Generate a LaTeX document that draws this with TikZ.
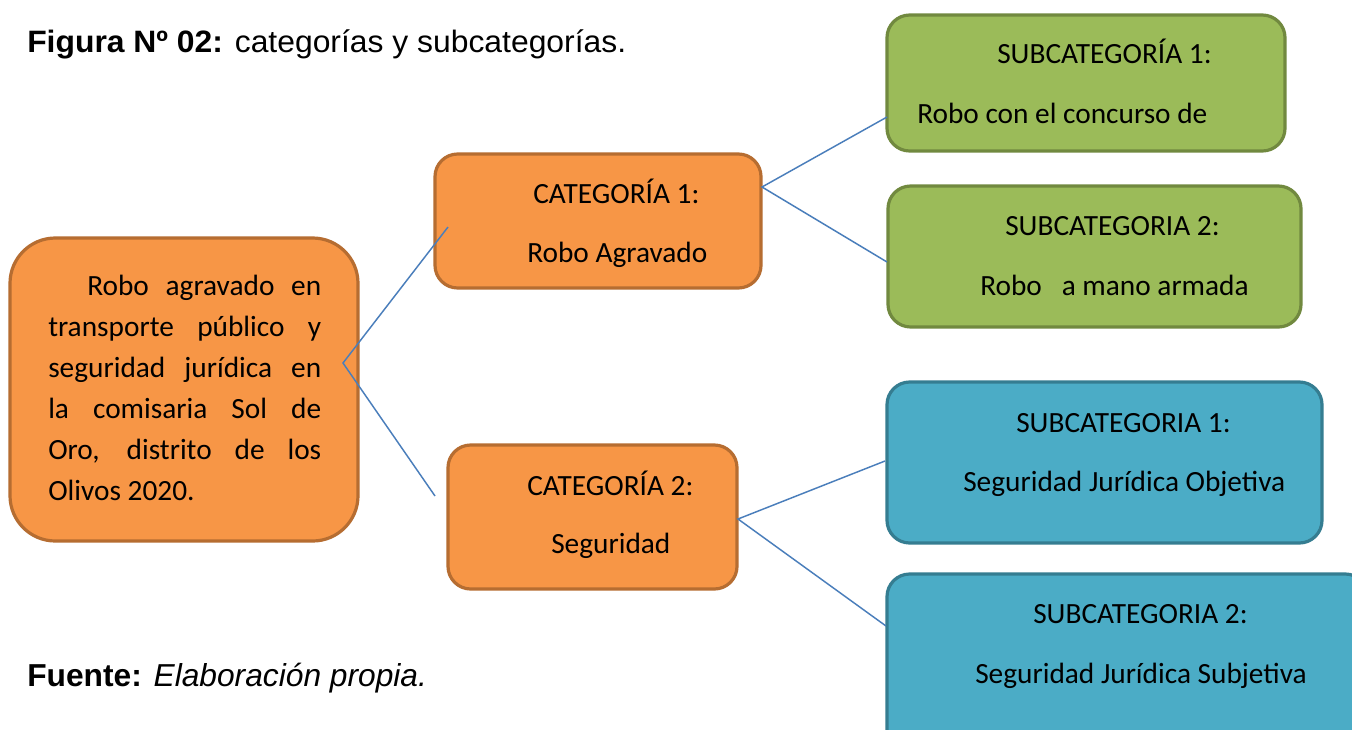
\documentclass[tikz,border=0pt]{standalone}
\usepackage{fontspec}
\setmainfont{Carlito}
\newfontfamily\arialf{Liberation Sans}
\usetikzlibrary{fit}
\definecolor{ofill}{HTML}{F79646}
\definecolor{oline}{HTML}{B66D31}
\definecolor{gfill}{HTML}{9BBB59}
\definecolor{gline}{HTML}{71893F}
\definecolor{bfill}{HTML}{4BACC6}
\definecolor{bline}{HTML}{357D91}
\definecolor{connc}{HTML}{4A7EBB}
\begin{document}
\begin{tikzpicture}[x=0.75pt,y=-0.75pt,
  box/.style={line width=2.4pt, inner sep=0pt, outer sep=0pt, rounded corners=17pt},
  obox/.style={box, fill=ofill, draw=oline},
  gbox/.style={box, fill=gfill, draw=gline},
  bluebox/.style={box, fill=bfill, draw=bline},
  txt/.style={inner sep=0pt, anchor=base west, font=\fontsize{22}{26}\selectfont},
  conn/.style={draw=connc, line width=1.1pt}]
\useasboundingbox (0,0) rectangle (1352,729);
\clip (0,0) rectangle (1352,729);
\fill[white] (0,0) rectangle (1352,729);

% boxes
\node[obox, rounded corners=34pt, fit={(10,238) (358,541)}] (main) {};
\node[obox, fit={(435,154) (761,288)}] (cat1) {};
\node[obox, fit={(448,445) (737,589)}] (cat2) {};
\node[gbox, fit={(887,15) (1285,151)}] (g1) {};
\node[gbox, fit={(888,186) (1301,327)}] (g2) {};
\node[bluebox, fit={(887,382) (1322,543)}] (b1) {};
\node[bluebox, fit={(887,574) (1368,760)}] (b2) {};

% connector points
\coordinate (mainv) at (343,363);
\coordinate (cat1in) at (448,227);
\coordinate (cat2in) at (435,496);
\coordinate (cat1v) at (762,187);
\coordinate (g1in) at (887,117);
\coordinate (g2in) at (887,262);
\coordinate (cat2v) at (738,519);
\coordinate (b1in) at (885,461);
\coordinate (b2in) at (886,626);

\draw[conn] (cat1in) -- (mainv) -- (cat2in);
\draw[conn] (g1in) -- (cat1v) -- (g2in);
\draw[conn] (b1in) -- (cat2v) -- (b2in);

% texts
\node[txt] (title) at (27,52) {\scalebox{1.03}[1]{\arialf\fontsize{23.2}{27}\selectfont\textbf{Figura Nº 02:} categorías y subcategorías.}};
\node[txt] (fuente) at (27,686) {\arialf\fontsize{23.8}{28}\selectfont\textbf{Fuente:} \textit{Elaboración propia.}};

\node[txt, font=\fontsize{22}{30.75}\selectfont] (maintext) at (48,295) {\parbox[t]{204.75pt}{%
\hspace*{29.25pt}\makebox[175.5pt][s]{Robo agravado en}\\
\makebox[204.75pt][s]{transporte público y}\\
\makebox[204.75pt][s]{seguridad jurídica en}\\
\makebox[204.75pt][s]{la comisaria Sol de}\\
\makebox[204.75pt][s]{Oro, distrito de los}\\
Olivos 2020.}};

\node[txt] (c1a) at (533,203) {CATEGORÍA 1:};
\node[txt] (c1b) at (527,262) {Robo Agravado};
\node[txt] (c2a) at (527,495) {CATEGORÍA 2:};
\node[txt] (c2b) at (551,553) {Seguridad};
\node[txt] (g1a) at (997,63) {SUBCATEGORÍA 1:};
\node[txt] (g1b) at (917,123) {Robo con el concurso de};
\node[txt] (g2a) at (1005,235) {SUBCATEGORIA 2:};
\node[txt] (g2b) at (980,295) {Robo\ \ \ a mano armada};
\node[txt] (b1a) at (1016,432) {SUBCATEGORIA 1:};
\node[txt] (b1b) at (963,491) {Seguridad Jurídica Objetiva};
\node[txt] (b2a) at (1033,623) {SUBCATEGORIA 2:};
\node[txt] (b2b) at (975,683) {Seguridad Jurídica Subjetiva};
\end{tikzpicture}
\end{document}
